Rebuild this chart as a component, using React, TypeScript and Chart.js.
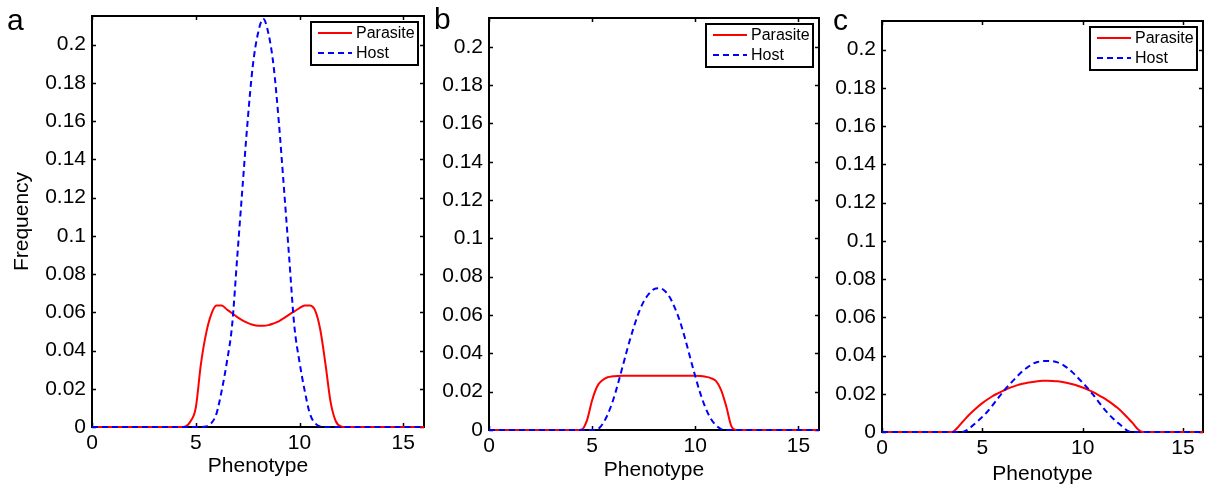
import React, { useEffect, useRef } from 'react';
import { Chart, registerables } from 'chart.js';

Chart.register(...registerables);

const FONT = "'Liberation Sans', Arial, Helvetica, sans-serif";

// Phenotype grid (x values)
const PHENOTYPE = [
  0, 0.25, 0.5, 0.75, 1, 1.25, 1.5, 1.75, 2, 2.25, 2.5, 2.75, 3, 3.25, 3.5, 3.75,
  4, 4.25, 4.5, 4.75, 5, 5.25, 5.5, 5.75, 6, 6.25, 6.5, 6.75, 7, 7.25, 7.5, 7.75,
  8, 8.25, 8.5, 8.75, 9, 9.25, 9.5, 9.75, 10, 10.25, 10.5, 10.75, 11, 11.25, 11.5, 11.75,
  12, 12.25, 12.5, 12.75, 13, 13.25, 13.5, 13.75, 14, 14.25, 14.5, 14.75, 15, 15.25, 15.5, 15.75, 16,
];

// Panel a
const PARASITE_A = [
  0, 0, 0, 0, 0, 0, 0, 0, 0, 0, 0, 0, 0, 0, 0, 0, 0, 0,
  0.0003, 0.003, 0.010, 0.033, 0.049, 0.059, 0.0635, 0.0635, 0.0615, 0.0595, 0.0575, 0.0558, 0.0545, 0.0535,
  0.053, 0.053, 0.0533, 0.0542, 0.0553, 0.057, 0.0588, 0.0605, 0.0622, 0.0636, 0.0635, 0.061, 0.051, 0.033,
  0.013, 0.003, 0.0003,
  0, 0, 0, 0, 0, 0, 0, 0, 0, 0, 0, 0, 0, 0, 0, 0,
];
const HOST_A = [
  0, 0, 0, 0, 0, 0, 0, 0, 0, 0, 0, 0, 0, 0, 0, 0, 0, 0, 0, 0, 0, 0,
  0.0003, 0.002, 0.007, 0.019, 0.034, 0.053, 0.089, 0.125, 0.16, 0.189, 0.206, 0.2135,
  0.206, 0.189, 0.16, 0.125, 0.089, 0.053, 0.034, 0.019, 0.007, 0.002, 0.0003,
  0, 0, 0, 0, 0, 0, 0, 0, 0, 0, 0, 0, 0, 0, 0, 0, 0, 0, 0, 0,
];

// Panel b
const PARASITE_B = [
  0, 0, 0, 0, 0, 0, 0, 0, 0, 0, 0, 0, 0, 0, 0, 0, 0, 0,
  0.0003, 0.005, 0.0155, 0.0228, 0.026, 0.0275, 0.028, 0.0282,
  0.0283, 0.0283, 0.0283, 0.0283, 0.0283, 0.0283, 0.0283, 0.0283, 0.0283, 0.0283, 0.0283, 0.0283, 0.0283, 0.0283, 0.0283,
  0.0282, 0.0278, 0.0271, 0.0256, 0.021, 0.0125, 0.002,
  0, 0, 0, 0, 0, 0, 0, 0, 0, 0, 0, 0, 0, 0, 0, 0, 0,
];
const HOST_B = [
  0, 0, 0, 0, 0, 0, 0, 0, 0, 0, 0, 0, 0, 0, 0, 0, 0, 0, 0, 0, 0,
  0.0003, 0.003, 0.008, 0.015, 0.024, 0.034, 0.044, 0.053, 0.061, 0.067, 0.071, 0.0735, 0.074,
  0.0728, 0.0695, 0.064, 0.057, 0.048, 0.038, 0.028, 0.019, 0.0115, 0.006, 0.0025, 0.0005,
  0, 0, 0, 0, 0, 0, 0, 0, 0, 0, 0, 0, 0, 0, 0, 0, 0, 0, 0,
];

// Panel c
const PARASITE_C = [
  0, 0, 0, 0, 0, 0, 0, 0, 0, 0, 0, 0, 0, 0, 0,
  0.0021, 0.0051, 0.008, 0.0106, 0.013, 0.0151, 0.017, 0.0187, 0.0201, 0.0214, 0.0226, 0.0236, 0.0245,
  0.0252, 0.0258, 0.0262, 0.0266, 0.0268, 0.0268, 0.0267, 0.0265, 0.0261, 0.0256, 0.025, 0.0242, 0.0233,
  0.0222, 0.021, 0.0196, 0.0181, 0.0164, 0.0146, 0.0125, 0.0101, 0.0074, 0.0046, 0.0015,
  0, 0, 0, 0, 0, 0, 0, 0, 0, 0, 0, 0, 0,
];
const HOST_C = [
  0, 0, 0, 0, 0, 0, 0, 0, 0, 0, 0, 0, 0, 0, 0, 0, 0,
  0.0011, 0.0032, 0.0055, 0.0079, 0.0106, 0.0138, 0.0172, 0.0206, 0.0237, 0.0265, 0.0292, 0.0318, 0.0338,
  0.0356, 0.0366, 0.0371, 0.0372, 0.037, 0.0364, 0.0353, 0.0334, 0.0312, 0.0285, 0.0258, 0.0229, 0.0198,
  0.0164, 0.013, 0.0099, 0.0072, 0.0049, 0.0026, 0.0006,
  0, 0, 0, 0, 0, 0, 0, 0, 0, 0, 0, 0, 0, 0, 0,
];

const SERIES_LABELS = ['Parasite', 'Host'];
const PANEL_LETTERS = ['a', 'b', 'c'];
const X_TITLE = 'Phenotype';
const Y_TITLE = 'Frequency';
const X_MIN = 0;
const X_MAX = 16;
const X_STEP = 5;
const Y_MIN = 0;
const Y_MAX = 0.215;
const Y_STEP = 0.02;

const PANEL_DATA = [
  [PARASITE_A, HOST_A],
  [PARASITE_B, HOST_B],
  [PARASITE_C, HOST_C],
];

// Layout of each panel (canvas placement and axis box sizes)
const LAYOUT = [
  { left: 0, width: 440, yAxisW: 92, padTop: 16, padRight: 16, xAxisH: 61, yTitle: true, letterX: 7, letterY: 30, xTitlePad: 9 },
  { left: 425, width: 405, yAxisW: 64, padTop: 18, padRight: 11, xAxisH: 58, yTitle: false, letterX: 9, letterY: 29, xTitlePad: 5 },
  { left: 826, width: 383, yAxisW: 56, padTop: 21, padRight: 6, xAxisH: 56, yTitle: false, letterX: 7, letterY: 30, xTitlePad: 1 },
];

const frameAndLegend = {
  id: 'frameAndLegend',
  beforeDatasetsDraw(chart: any) {
    const { ctx, chartArea: a, scales } = chart;
    ctx.save();
    ctx.strokeStyle = '#000';
    ctx.lineWidth = 2;
    ctx.strokeRect(a.left, a.top, a.right - a.left, a.bottom - a.top);
    ctx.lineWidth = 1.5;
    const tl = 4;
    ctx.beginPath();
    scales.x.ticks.forEach((t: any) => {
      const px = Math.round(scales.x.getPixelForValue(t.value)) + 0.5;
      ctx.moveTo(px, a.bottom);
      ctx.lineTo(px, a.bottom - tl);
      ctx.moveTo(px, a.top);
      ctx.lineTo(px, a.top + tl);
    });
    scales.y.ticks.forEach((t: any) => {
      const py = Math.round(scales.y.getPixelForValue(t.value)) + 0.5;
      ctx.moveTo(a.left, py);
      ctx.lineTo(a.left + tl, py);
      ctx.moveTo(a.right, py);
      ctx.lineTo(a.right - tl, py);
    });
    ctx.stroke();
    ctx.restore();
  },
  afterDraw(chart: any, _args: any, opts: any) {
    const { ctx, chartArea: a } = chart;
    ctx.save();
    // legend box
    const bw = 107;
    const bh = 43;
    const bx = a.right - 6 - bw;
    const by = a.top + 6;
    ctx.fillStyle = '#fff';
    ctx.fillRect(bx, by, bw, bh);
    ctx.strokeStyle = '#000';
    ctx.lineWidth = 2;
    ctx.strokeRect(bx, by, bw, bh);
    chart.data.datasets.forEach((ds: any, i: number) => {
      const y = by + 11 + i * 20;
      ctx.beginPath();
      ctx.strokeStyle = ds.borderColor;
      ctx.lineWidth = 2;
      ctx.setLineDash(ds.borderDash || []);
      ctx.moveTo(bx + 7, y);
      ctx.lineTo(bx + 41, y);
      ctx.stroke();
      ctx.setLineDash([]);
      ctx.fillStyle = '#000';
      ctx.font = `16px ${FONT}`;
      ctx.textBaseline = 'middle';
      ctx.textAlign = 'left';
      ctx.fillText(ds.label, bx + 45, y + 1);
    });
    // panel letter
    ctx.fillStyle = '#000';
    ctx.font = `30px ${FONT}`;
    ctx.textBaseline = 'alphabetic';
    ctx.textAlign = 'left';
    ctx.fillText(opts.letter, opts.letterX, opts.letterY);
    ctx.restore();
  },
};

function Panel({ index }: { index: number }) {
  const ref = useRef<HTMLCanvasElement | null>(null);
  const L = LAYOUT[index];
  useEffect(() => {
    if (!ref.current) return;
    const [par, host] = PANEL_DATA[index];
    const chart = new Chart(ref.current, {
      type: 'line',
      data: {
        datasets: [
          {
            label: SERIES_LABELS[0],
            data: PHENOTYPE.map((x, i) => ({ x, y: par[i] })),
            borderColor: '#ff0000',
            borderWidth: 2,
            pointRadius: 0,
            cubicInterpolationMode: 'monotone',
            clip: 6,
            order: 1,
          },
          {
            label: SERIES_LABELS[1],
            data: PHENOTYPE.map((x, i) => ({ x, y: host[i] })),
            borderColor: '#0000ff',
            borderWidth: 2,
            borderDash: [6, 4],
            pointRadius: 0,
            cubicInterpolationMode: 'monotone',
            clip: 6,
            order: 0,
          },
        ],
      },
      options: {
        responsive: false,
        animation: false,
        events: [],
        layout: { padding: { top: L.padTop, right: L.padRight, left: 0, bottom: 0 } },
        plugins: {
          legend: { display: false },
          tooltip: { enabled: false },
          frameAndLegend: { letter: PANEL_LETTERS[index], letterX: L.letterX, letterY: L.letterY },
        } as any,
        scales: {
          x: {
            type: 'linear',
            min: X_MIN,
            max: X_MAX,
            grid: { display: false, drawTicks: false },
            border: { display: false },
            ticks: {
              stepSize: X_STEP,
              includeBounds: false,
              padding: 4,
              color: '#000',
              font: { family: FONT, size: 21 },
              maxRotation: 0,
              callback: (v: any) => String(v),
            },
            title: {
              display: true,
              text: X_TITLE,
              color: '#000',
              font: { family: FONT, size: 21 },
              padding: { top: 0, bottom: L.xTitlePad },
            },
            afterFit: (s: any) => {
              s.height = L.xAxisH;
              s.paddingLeft = 0;
              s.paddingRight = 0;
            },
          },
          y: {
            type: 'linear',
            min: Y_MIN,
            max: Y_MAX,
            grid: { display: false, drawTicks: false },
            border: { display: false },
            ticks: {
              stepSize: Y_STEP,
              includeBounds: false,
              padding: 6,
              color: '#000',
              font: { family: FONT, size: 21 },
              callback: (v: any) => String(Number(Number(v).toFixed(3))),
            },
            title: {
              display: L.yTitle,
              text: Y_TITLE,
              color: '#000',
              font: { family: FONT, size: 21 },
              padding: { top: 10, bottom: 0 },
            },
            afterFit: (s: any) => {
              s.width = L.yAxisW;
              s.paddingTop = 0;
              s.paddingBottom = 0;
            },
          },
        },
      } as any,
      plugins: [frameAndLegend],
    });
    return () => chart.destroy();
  }, [index]);
  return (
    <canvas
      ref={ref}
      width={L.width}
      height={488}
      style={{ position: 'absolute', left: L.left, top: 0, width: L.width, height: 488 }}
    />
  );
}

export default function App() {
  return (
    <div style={{ position: 'fixed', left: 0, top: 0, width: 1209, height: 488, background: '#fff', overflow: 'hidden' }}>
      <Panel index={0} />
      <Panel index={1} />
      <Panel index={2} />
    </div>
  );
}
